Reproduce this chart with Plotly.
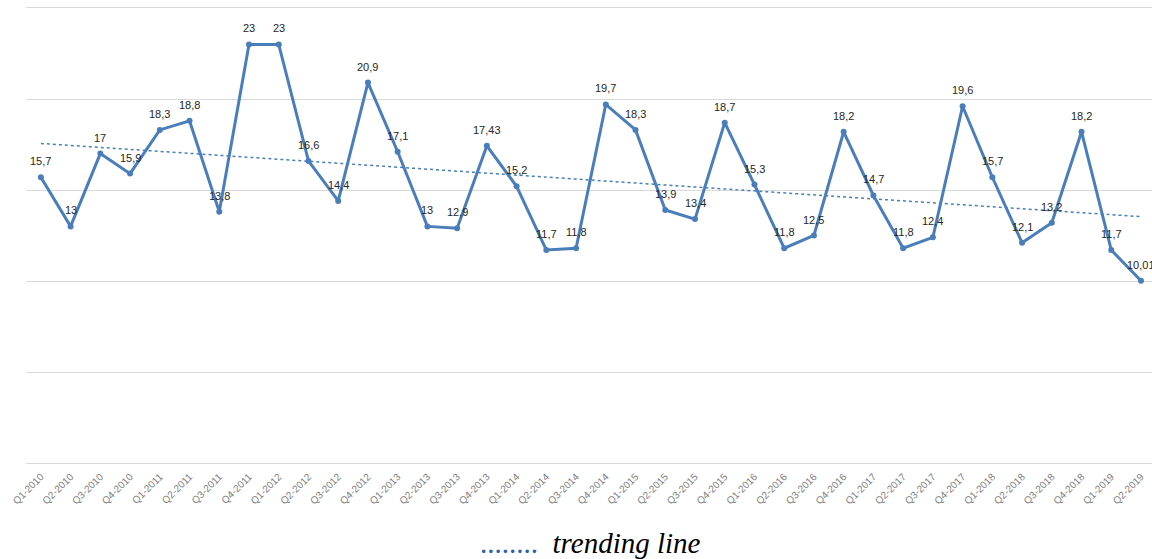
import numpy as np
import plotly.graph_objects as go

# Quarterly series
quarters = [
    "Q1-2010", "Q2-2010", "Q3-2010", "Q4-2010",
    "Q1-2011", "Q2-2011", "Q3-2011", "Q4-2011",
    "Q1-2012", "Q2-2012", "Q3-2012", "Q4-2012",
    "Q1-2013", "Q2-2013", "Q3-2013", "Q4-2013",
    "Q1-2014", "Q2-2014", "Q3-2014", "Q4-2014",
    "Q1-2015", "Q2-2015", "Q3-2015", "Q4-2015",
    "Q1-2016", "Q2-2016", "Q3-2016", "Q4-2016",
    "Q1-2017", "Q2-2017", "Q3-2017", "Q4-2017",
    "Q1-2018", "Q2-2018", "Q3-2018", "Q4-2018",
    "Q1-2019", "Q2-2019",
]
values = [
    15.7, 13, 17, 15.9,
    18.3, 18.8, 13.8, 23,
    23, 16.6, 14.4, 20.9,
    17.1, 13, 12.9, 17.43,
    15.2, 11.7, 11.8, 19.7,
    18.3, 13.9, 13.4, 18.7,
    15.3, 11.8, 12.5, 18.2,
    14.7, 11.8, 12.4, 19.6,
    15.7, 12.1, 13.2, 18.2,
    11.7, 10.01,
]
labels = [f"{v:g}".replace(".", ",") for v in values]

BLUE = "#4a7ebb"
GRID = "#d9d9d9"

# Linear trend fitted on the series
idx = np.arange(len(values))
slope, intercept = np.polyfit(idx, values, 1)
trend = slope * idx + intercept

fig = go.Figure()

fig.add_trace(go.Scatter(
    x=quarters, y=trend, mode="lines",
    line=dict(color=BLUE, width=1.5, dash="dot"),
    hoverinfo="skip", showlegend=False,
))

fig.add_trace(go.Scatter(
    x=quarters, y=values, mode="lines+markers",
    line=dict(color=BLUE, width=3),
    marker=dict(color=BLUE, size=6),
    showlegend=False,
))

# Value labels above each point
for q, v, t in zip(quarters, values, labels):
    fig.add_annotation(
        x=q, y=v, text=t, showarrow=False,
        yshift=16, xanchor="center", yanchor="middle",
        font=dict(family="Liberation Sans", size=11, color="#262626"),
    )

# Trend key below the axis
fig.add_annotation(
    xref="paper", yref="paper", x=0.501, y=-0.176,
    xanchor="center", yanchor="middle", showarrow=False,
    text='<span style="color:#2e5fa8">........</span>  <i>trending line</i>',
    font=dict(family="Liberation Serif", size=29, color="#000000"),
)

fig.update_xaxes(
    type="category",
    range=[-0.5, 37.37],
    showgrid=False, zeroline=False,
    showline=True, mirror=True, linecolor=GRID, linewidth=1,
    tickangle=-45,
    tickfont=dict(family="Liberation Sans", size=10, color="#808080"),
    ticks="", ticklabelstandoff=3,
)
fig.update_yaxes(
    range=[0, 25], dtick=5,
    showgrid=True, gridcolor=GRID, gridwidth=1,
    showticklabels=False, zeroline=False, showline=False,
)

fig.update_layout(
    width=1152, height=559,
    margin=dict(l=26, r=0, t=8, b=96),
    plot_bgcolor="white", paper_bgcolor="white",
)

fig.write_html("out.html")
